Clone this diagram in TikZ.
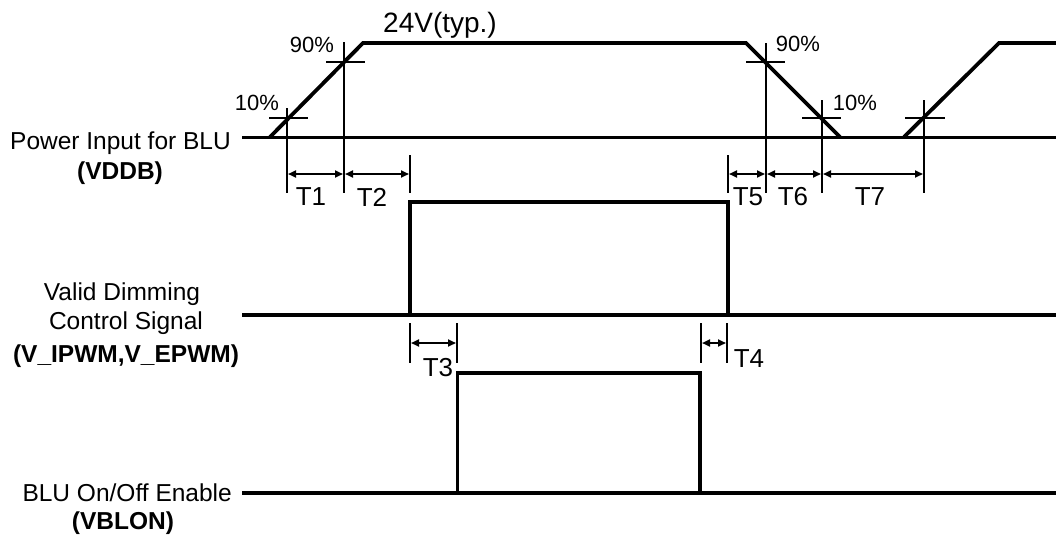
\documentclass[tikz,border=0pt]{standalone}
\usepackage{fontspec}
\setmainfont{Liberation Sans}
\usetikzlibrary{arrows.meta}
\begin{document}
\begin{tikzpicture}[x=1pt,y=-1pt,
  sig/.style={line width=3.8pt, line join=miter},
  baseln/.style={line width=3pt},
  tickln/.style={line width=1.9pt},
  dimln/.style={line width=1.9pt, {Triangle[length=8pt,width=7pt]}-{Triangle[length=8pt,width=7pt]}},
  lbl/.style={font=\fontsize{24.5}{29}\selectfont, inner sep=0pt},
  blbl/.style={font=\fontsize{24.5}{29}\selectfont\bfseries, inner sep=0pt},
  pct/.style={font=\fontsize{22}{26}\selectfont, inner sep=0pt},
  tlbl/.style={font=\fontsize{26}{30}\selectfont, inner sep=0pt}]
\useasboundingbox (0,0) rectangle (1056,538);

% ---------- VDDB ----------
\draw[baseln] (242,137) -- (1056,137);
\draw[sig] (270,137) -- (363,43) -- (746,43) -- (840,137);
\draw[sig] (904,137) -- (999,43) -- (1056,43);

% ticks
\draw[tickln] (269,118) -- (308,118);
\draw[tickln] (287,108) -- (287,193);
\draw[tickln] (326,62) -- (365,62);
\draw[tickln] (344,42) -- (344,193);
\draw[tickln] (410,155) -- (410,193);
\draw[tickln] (728,155) -- (728,193);
\draw[tickln] (746,62) -- (785,62);
\draw[tickln] (766,43) -- (766,193);
\draw[tickln] (802,118) -- (841,118);
\draw[tickln] (822,100) -- (822,193);
\draw[tickln] (905,118) -- (945,118);
\draw[tickln] (924,100) -- (924,193);

% dimension coordinates
\coordinate (a1) at (288,174);
\coordinate (a2) at (343,174);
\coordinate (a3) at (345,174);
\coordinate (a4) at (409,174);
\coordinate (a5) at (729,174);
\coordinate (a6) at (765,174);
\coordinate (a7) at (767,174);
\coordinate (a8) at (821,174);
\coordinate (a9) at (823,174);
\coordinate (a10) at (923,174);
\draw[dimln] (a1) -- (a2);
\draw[dimln] (a3) -- (a4);
\draw[dimln] (a5) -- (a6);
\draw[dimln] (a7) -- (a8);
\draw[dimln] (a9) -- (a10);

\node[tlbl] (t1) at (311,197) {T1};
\node[tlbl] (t2) at (372,197) {T2};
\node[tlbl] (t5) at (748,197) {T5};
\node[tlbl] (t6) at (793,197) {T6};
\node[tlbl] (t7) at (870,197) {T7};

\node[pct] (p90a) at (312,45) {90\%};
\node[pct] (p10a) at (257,103) {10\%};
\node[pct] (p90b) at (798,44) {90\%};
\node[pct] (p10b) at (855,103) {10\%};
\node[font=\fontsize{28}{32}\selectfont, inner sep=0pt, anchor=base] (v24) at (440,32) {24V(typ.)};

\node[lbl, anchor=base east] (l1) at (231,149) {Power Input for BLU};
\node[blbl, anchor=base] (l1b) at (120,179) {(VDDB)};

% ---------- V_IPWM ----------
\draw[sig] (242,315) -- (1056,315);
\draw[sig] (410,315) -- (410,202) -- (728,202) -- (728,315);
\draw[tickln] (410,323) -- (410,363);
\draw[tickln] (457,323) -- (457,363);
\draw[tickln] (701,323) -- (701,363);
\draw[tickln] (727,323) -- (727,363);
\coordinate (b1) at (411,343);
\coordinate (b2) at (456,343);
\coordinate (b3) at (702,343);
\coordinate (b4) at (726,343);
\draw[dimln] (b1) -- (b2);
\draw[dimln] (b3) -- (b4);
\node[tlbl] (t3) at (438,368) {T3};
\node[tlbl] (t4) at (749,359) {T4};

\node[lbl, anchor=base] (l2a) at (122,300) {Valid Dimming};
\node[lbl, anchor=base] (l2b) at (126,329) {Control Signal};
\node[blbl, anchor=base] (l2c) at (126,362) {(V\_IPWM,V\_EPWM)};

% ---------- VBLON ----------
\draw[sig] (242,493) -- (1056,493);
\draw[sig] (457.5,493) -- (457.5,373) -- (700,373) -- (700,493);
\node[lbl, anchor=base east] (l3) at (232,501) {BLU On/Off Enable};
\node[blbl, anchor=base] (l3b) at (123,529) {(VBLON)};
\end{tikzpicture}
\end{document}
